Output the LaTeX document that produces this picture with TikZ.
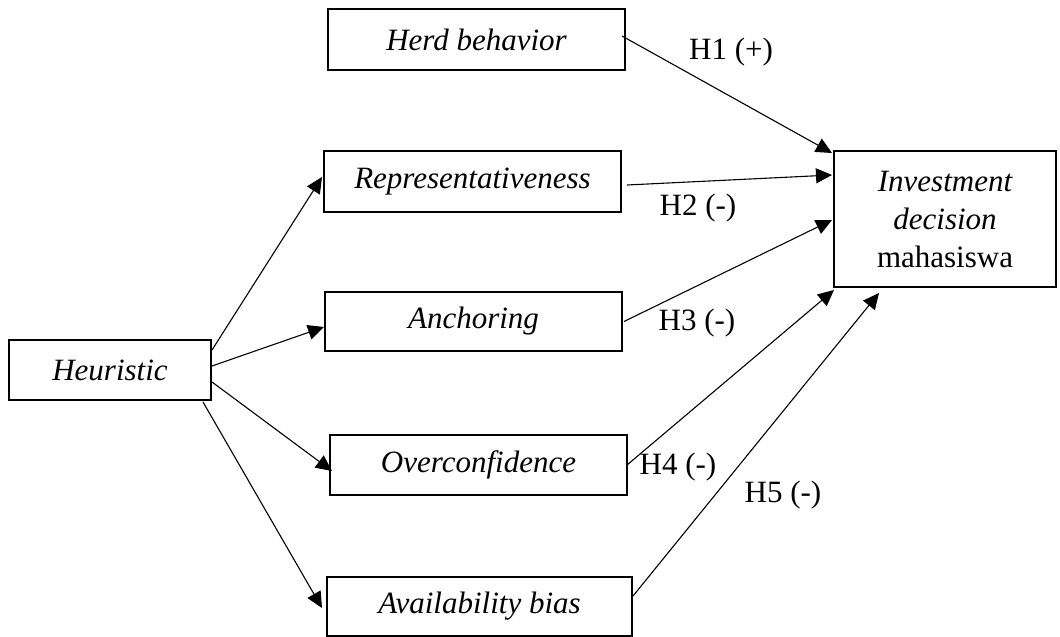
\documentclass[tikz,border=0pt]{standalone}
\usepackage{fontspec}
\setmainfont{Liberation Serif}
\usetikzlibrary{arrows.meta,calc}
\begin{document}
\begin{tikzpicture}[x=1pt,y=-1pt,
  box/.style={draw,line width=2pt,inner sep=0pt,font=\fontsize{31}{38}\selectfont\itshape},
  arr/.style={line width=1.1pt,-{Triangle[length=16pt,width=15pt]}},
  lab/.style={font=\fontsize{31}{38}\selectfont,inner sep=0pt}]
\useasboundingbox (0,0) rectangle (1060,637);
\node[box,minimum width=297pt,minimum height=61pt] (herd) at (476.5,39.5) {Herd behavior};
\node[box,minimum width=297pt,minimum height=61pt] (rep) at (472.5,181.5) {Representativeness};
\node[box,minimum width=297pt,minimum height=59pt] (anch) at (473.5,321.5) {Anchoring};
\node[box,minimum width=202pt,minimum height=60pt] (heur) at (110,370) {Heuristic};
\node[box,minimum width=297pt,minimum height=60pt] (over) at (478.5,465) {Overconfidence};
\node[box,minimum width=305pt,minimum height=59pt] (avail) at (479.5,606.5) {Availability bias};
\node[box,minimum width=222pt,minimum height=136pt,align=center] (inv) at (945,219)
  {Investment\\decision\\\upshape mahasiswa};
% heuristic arrows
\draw[arr] ($(heur.east)+(0,-20)$) -- ($(rep.west)+(-1,-4.5)$);
\draw[arr] ($(heur.east)+(0,-4)$) -- ($(anch.west)+(0,5.5)$);
\draw[arr] ($(heur.east)+(0,12)$) -- ($(over.west)+(3,6)$);
\draw[arr] ($(heur.south east)+(-9,1)$) -- ($(avail.west)+(-4,1.5)$);
% hypothesis arrows
\draw[arr] ($(herd.east)+(-4,-3.5)$) -- ($(inv.north west)+(-1,3)$);
\draw[arr] ($(rep.east)+(5,3.5)$) -- ($(inv.north west)+(-1,25)$);
\draw[arr] ($(anch.east)+(1,0)$) -- ($(inv.west)+(-1,1)$);
\draw[arr] ($(over.east)+(-1,0)$) -- ($(inv.south west)+(1,2)$);
\draw[arr] ($(avail.east)+(0,-10.5)$) -- ($(inv.south west)+(46,5)$);
% labels
\node[lab] (h1) at (731,52) {H1 (+)};
\node[lab] (h2) at (698,208) {H2 (-)};
\node[lab] (h3) at (697,323) {H3 (-)};
\node[lab] (h4) at (678,467) {H4 (-)};
\node[lab] (h5) at (783,495) {H5 (-)};
\end{tikzpicture}
\end{document}
